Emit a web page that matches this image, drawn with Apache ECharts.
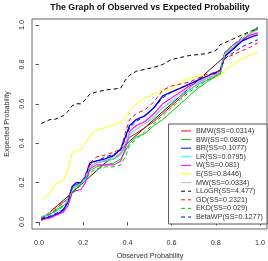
<!DOCTYPE html>
<html><head><meta charset="utf-8">
<script src="https://cdn.jsdelivr.net/npm/echarts@6/dist/echarts.min.js"></script>
<style>html,body{margin:0;padding:0;background:#fff}#c{width:268px;height:261px}</style>
</head><body><div id="c"></div>
<script>
// observed probabilities (x) and the reference line (observed = expected)
const observed = [0.01,0.03,0.05,0.07,0.09,0.11,0.13,0.15,0.17,0.19,0.21,0.23,0.26,0.30,0.34,0.37,0.39,0.41,0.44,0.48,0.52,0.56,0.60,0.64,0.68,0.72,0.76,0.80,0.82,0.84,0.88,0.92,0.96,0.99];
const BMW   = [0.025,0.035,0.05,0.07,0.09,0.10,0.12,0.17,0.19,0.20,0.23,0.28,0.30,0.31,0.32,0.35,0.39,0.43,0.45,0.48,0.51,0.55,0.59,0.63,0.67,0.70,0.72,0.74,0.76,0.85,0.89,0.93,0.96,0.98];
const BW    = [0.02,0.03,0.04,0.055,0.07,0.085,0.10,0.15,0.18,0.19,0.21,0.26,0.28,0.29,0.30,0.32,0.36,0.40,0.43,0.45,0.49,0.52,0.56,0.60,0.64,0.68,0.71,0.74,0.75,0.85,0.89,0.93,0.96,0.98];
const BR    = [0.01,0.02,0.025,0.035,0.045,0.06,0.10,0.18,0.20,0.20,0.23,0.30,0.31,0.32,0.34,0.37,0.43,0.49,0.52,0.54,0.58,0.64,0.66,0.68,0.70,0.72,0.74,0.76,0.77,0.84,0.88,0.92,0.94,0.95];
const LR    = [0.02,0.03,0.04,0.05,0.065,0.08,0.11,0.16,0.185,0.195,0.22,0.28,0.30,0.31,0.32,0.34,0.38,0.44,0.47,0.50,0.53,0.58,0.61,0.64,0.67,0.70,0.72,0.745,0.76,0.85,0.89,0.93,0.96,0.975];
const W     = [0.01,0.015,0.02,0.03,0.04,0.05,0.08,0.15,0.16,0.165,0.20,0.27,0.29,0.29,0.29,0.31,0.37,0.46,0.49,0.51,0.55,0.60,0.63,0.66,0.69,0.71,0.73,0.75,0.77,0.86,0.90,0.93,0.95,0.96];
const E     = [0.11,0.13,0.15,0.19,0.20,0.21,0.26,0.35,0.365,0.365,0.40,0.44,0.465,0.48,0.495,0.505,0.53,0.56,0.60,0.63,0.65,0.67,0.67,0.71,0.73,0.74,0.745,0.74,0.74,0.77,0.80,0.83,0.85,0.86];
const MW    = [0.025,0.035,0.05,0.065,0.08,0.10,0.12,0.17,0.19,0.20,0.23,0.28,0.30,0.315,0.33,0.35,0.40,0.45,0.47,0.50,0.54,0.58,0.62,0.65,0.68,0.71,0.73,0.75,0.76,0.85,0.89,0.93,0.96,0.975];
const LLoGR = [0.50,0.51,0.52,0.52,0.53,0.54,0.56,0.59,0.60,0.60,0.62,0.65,0.66,0.67,0.675,0.68,0.72,0.745,0.765,0.775,0.785,0.80,0.825,0.835,0.845,0.85,0.855,0.87,0.90,0.91,0.93,0.95,0.97,0.98];
const GD    = [0.02,0.03,0.04,0.06,0.08,0.095,0.12,0.17,0.19,0.20,0.24,0.30,0.33,0.34,0.355,0.37,0.45,0.52,0.55,0.57,0.61,0.67,0.69,0.70,0.71,0.73,0.75,0.76,0.77,0.83,0.85,0.87,0.89,0.91];
const EKD   = [0.02,0.03,0.04,0.05,0.065,0.08,0.10,0.14,0.17,0.185,0.21,0.25,0.27,0.28,0.28,0.29,0.33,0.39,0.42,0.46,0.50,0.54,0.58,0.62,0.66,0.69,0.72,0.74,0.75,0.86,0.90,0.94,0.97,0.985];
const BetaWP= [0.015,0.025,0.03,0.04,0.05,0.065,0.10,0.18,0.195,0.20,0.23,0.29,0.31,0.33,0.345,0.365,0.42,0.48,0.51,0.54,0.58,0.63,0.66,0.68,0.70,0.72,0.74,0.755,0.77,0.83,0.86,0.89,0.91,0.925];
const legendNames = ['BMW(SS=0.0314)','BW(SS=0.0806)','BR(SS=0.1077)','LR(SS=0.0795)','W(SS=0.081)','E(SS=0.8446)','MW(SS=0.0334)','LLoGR(SS=4.477)','GD(SS=0.2321)','EKD(SS=0.029)','BetaWP(SS=0.1277)'];

const FONT = 'Liberation Sans';
const seriesDefs = [
  [BMW,   '#FF0000', 'solid', 1],
  [BW,    '#00CD00', 'solid', 1],
  [BR,    '#0000FF', 'solid', 1.4],
  [LR,    '#00FFFF', 'solid', 1],
  [W,     '#FF00FF', 'solid', 1.1],
  [E,     '#FFFF00', 'solid', 1],
  [MW,    '#BEBEBE', 'solid', 1],
  [LLoGR, '#000000', [4,3], 1],
  [GD,    '#FF0000', [4,3], 1],
  [EKD,   '#00CD00', [4,3], 1],
  [BetaWP,'#0000FF', [4,3], 1]
];
const series = [{
  type:'line', name:'observed', data: observed.map(x=>[x,x]), symbol:'none', silent:true,
  lineStyle:{color:'#000', width:0.9}, xAxisIndex:0, yAxisIndex:0, z:2
}];
seriesDefs.forEach((d,i)=>{
  series.push({
    type:'line', name: legendNames[i], data: observed.map((x,j)=>[x,d[0][j]]),
    symbol:'none', showSymbol:false, lineStyle:{color:d[1], type:d[2], width:d[3]}, itemStyle:{color:d[1]},
    xAxisIndex:0, yAxisIndex:0, z:3
  });
});

const chart = echarts.init(document.getElementById('c'), null, {renderer:'canvas'});
chart.setOption({
  animation:false,
  backgroundColor:'#fff',
  textStyle:{fontFamily:FONT},
  graphic:[
    {type:'text', x:150, y:8, style:{text:'The Graph of Observed vs Expected Probability', align:'center', verticalAlign:'middle', font:'bold 8.8px "Liberation Sans"', fill:'#111'}},
    {type:'text', x:150, y:256, style:{text:'Observed Probability', align:'center', verticalAlign:'middle', font:'7.2px "Liberation Sans"', fill:'#333'}},
    {type:'text', x:7, y:124, rotation:Math.PI/2, style:{text:'Expected Probability', align:'center', verticalAlign:'middle', font:'7.2px "Liberation Sans"', fill:'#333'}}
  ],
  grid:[
    {left:39, right:8, top:25, bottom:39, show:false},
    {left:32, right:1, top:19, bottom:32, show:true, borderColor:'#666', borderWidth:1, backgroundColor:'transparent'}
  ],
  xAxis:[
    {type:'value', gridIndex:0, min:0, max:1, interval:0.2, offset:7,
     axisLine:{show:false}, splitLine:{show:false},
     axisTick:{show:true, length:3.5, lineStyle:{color:'#555', width:1}},
     axisLabel:{margin:11, fontSize:7.2, color:'#333', fontFamily:FONT, formatter:v=>v.toFixed(1)}},
    {type:'value', gridIndex:1, show:false, min:0, max:1}
  ],
  yAxis:[
    {type:'value', gridIndex:0, min:0, max:1, interval:0.2, offset:7,
     axisLine:{show:false}, splitLine:{show:false},
     axisTick:{show:true, length:3.5, lineStyle:{color:'#555', width:1}},
     axisLabel:{margin:6, rotate:90, fontSize:7.2, color:'#333', fontFamily:FONT, formatter:v=>v.toFixed(1)}},
    {type:'value', gridIndex:1, show:false, min:0, max:1}
  ],
  legend:{
    orient:'vertical', right:1, top:124,
    data: legendNames,
    itemWidth:10, itemHeight:6, itemGap:1.6,
    padding:[3.5,4,3.5,12],
    borderColor:'#555', borderWidth:1, borderRadius:0, backgroundColor:'#fff',
    selectedMode:false,
    itemStyle:{opacity:0, borderWidth:0},
    lineStyle:{width:1},
    textStyle:{fontSize:7.2, lineHeight:7, color:'#333', fontFamily:FONT}
  },
  series: series
});
</script></body></html>
